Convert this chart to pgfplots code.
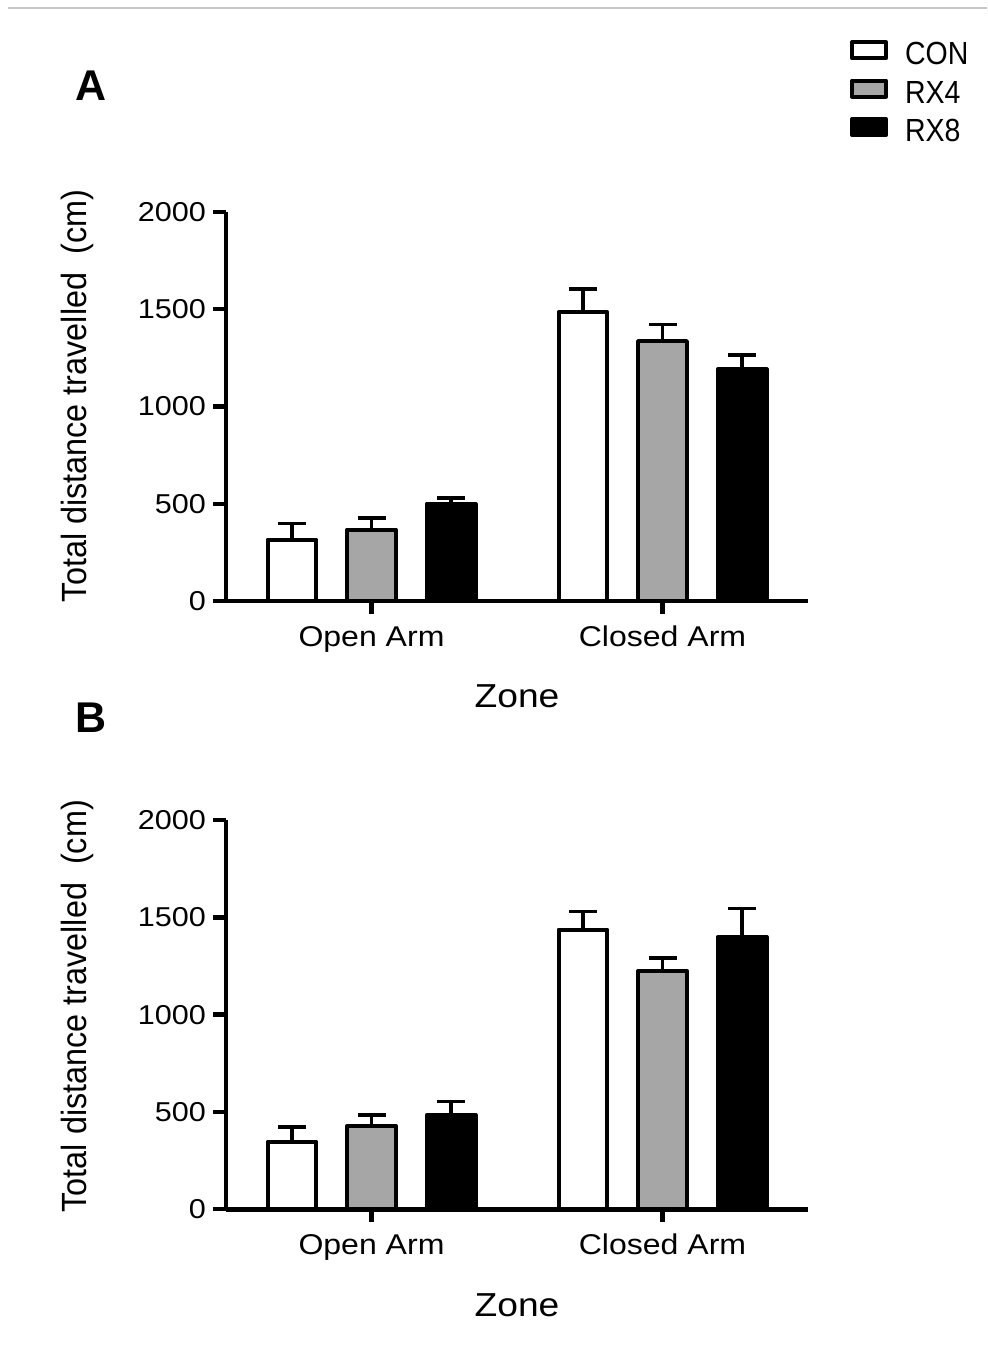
\documentclass[border=0pt]{standalone}
\usepackage{graphicx}
\usepackage{fontspec}
\usepackage{pgfplots}
\pgfplotsset{compat=1.18}

\setmainfont{Liberation Sans}[FakeStretch=1.12]
\newfontfamily\legfont{Liberation Sans}[FakeStretch=0.89]
\newfontfamily\plainfont{Liberation Sans}

\definecolor{rxgray}{HTML}{A6A6A6}

% Shared look of both panels
\pgfplotsset{
  zonebars/.style={
    scale only axis,
    width=291pt, height=194.5pt,
    xmin=-0.5, xmax=1.5, ymin=0, ymax=2000,
    enlargelimits=false,
    clip=false,
    ybar=15.4pt, bar width=24.4pt,
    axis lines=left,
    axis line style={-, line width=2.4pt},
    xtick={0,1},
    xticklabels={Open Arm, Closed Arm},
    ytick={0,500,1000,1500,2000},
    /pgf/number format/assume math mode=true,
    /pgf/number format/1000 sep={},
    tick align=outside,
    major tick length=6.5pt,
    tick style={line width=2.2pt, black},
    yticklabel style={font=\fontsize{13.65pt}{15pt}\selectfont},
    xticklabel style={font=\fontsize{14.3pt}{16pt}\selectfont, yshift=-2.5pt},
    xlabel={Zone},
    xlabel style={font=\fontsize{16.6pt}{18pt}\selectfont,
      at={(axis description cs:0.5,-0.275)}, anchor=base},
    ylabel={\scalebox{1}[1.08]{\plainfont\fontsize{16.2pt}{18pt}\selectfont Total distance travelled\ \ (cm)}},
    ylabel style={anchor=center},
  },
  grpbar/.style={
    draw=black, line width=2pt, line join=round,
    /pgfplots/error bars/y dir=plus,
    /pgfplots/error bars/y explicit,
    /pgfplots/error bars/error bar style={line width=1.8pt, black},
    /pgfplots/error bars/error mark options={rotate=90, line width=1.8pt, mark size=7pt, black},
  },
}

\begin{document}
\begin{tikzpicture}
\useasboundingbox (0,0) rectangle (493.5pt,684pt);
\draw[black!22, line width=0.8pt] (4pt,680pt) -- (493.5pt,680pt);

% Panel A
\begin{axis}[zonebars,
  at={(113pt,383.5pt)}, anchor=south west,
  ylabel style={at={(axis description cs:-0.256,0.527)}},
  legend style={at={(axis description cs:1.0722,1.4414)}, anchor=north west,
    draw=none, fill=none, inner sep=0pt, outer sep=0pt, row sep=6.9pt,
    font=\legfont\fontsize{16pt}{16pt}\selectfont,
    nodes={inner sep=0pt, text height=11.6pt, text depth=0pt},
    /tikz/every odd column/.append style={column sep=8.5pt}},
  legend cell align=left,
  legend image code/.code={\draw[#1, line width=2pt] (0pt,-2.5pt) rectangle (17pt,5.5pt);},
]
\addplot[grpbar, fill=white] coordinates {(0,316) +- (0,82) (1,1486) +- (0,118)};
\addplot[grpbar, fill=rxgray] coordinates {(0,367) +- (0,60) (1,1336) +- (0,86)};
\addplot[grpbar, fill=black] coordinates {(0,500) +- (0,29) (1,1191) +- (0,74)};
\legend{CON, RX4, RX8}
\end{axis}

% Panel B
\begin{axis}[zonebars,
  at={(113pt,79.4pt)}, anchor=south west,
  ylabel style={at={(axis description cs:-0.256,0.522)}},
]
\addplot[grpbar, fill=white] coordinates {(0,347) +- (0,77) (1,1438) +- (0,93)};
\addplot[grpbar, fill=rxgray] coordinates {(0,429) +- (0,54) (1,1226) +- (0,65)};
\addplot[grpbar, fill=black] coordinates {(0,484) +- (0,69) (1,1400) +- (0,146)};
\end{axis}

\node[font=\plainfont\bfseries\fontsize{21.5pt}{24pt}\selectfont] at (45.5pt,641pt) {A};
\node[font=\plainfont\bfseries\fontsize{21.5pt}{24pt}\selectfont] at (45.5pt,325pt) {B};
\end{tikzpicture}
\end{document}
